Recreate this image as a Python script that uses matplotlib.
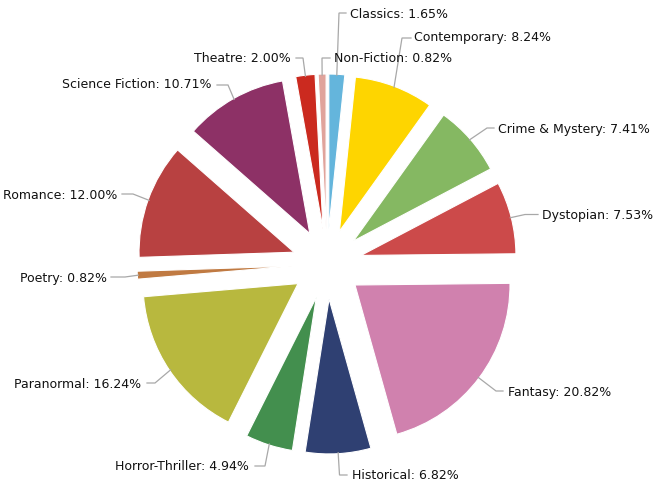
import numpy as np
import matplotlib
matplotlib.use("Agg")
import matplotlib.pyplot as plt

categories = ["Classics", "Contemporary", "Crime & Mystery", "Dystopian", "Fantasy",
              "Historical", "Horror-Thriller", "Paranormal", "Poetry", "Romance",
              "Science Fiction", "Theatre", "Non-Fiction"]
values = [1.65, 8.24, 7.41, 7.53, 20.82, 6.82, 4.94, 16.24, 0.82, 12.00, 10.71, 2.00, 0.82]
colors = ["#64b5dc", "#fed500", "#85b862", "#cc4a4a", "#d081ae", "#2f4072",
          "#438f4e", "#b8b83e", "#c07a42", "#b84141", "#8d3166", "#cb2a1f", "#e0a39b"]

W, H = 656, 487
CX, CY = 327, 264          # pie centre (screen px, y down)
R = 155                    # radius px
D = 35                     # explode offset px

# label layout: (elbow_x, elbow_y, end_x, text_x, text_y, ha) in screen px
layout = {
    "Classics":        (339, 13, 346, 350, 14, "left"),
    "Contemporary":    (402, 38, 411, 414, 38, "left"),
    "Crime & Mystery": (487, 128, 494, 498.5, 129.5, "left"),
    "Dystopian":       (525, 214.5, 538, 542.5, 215.5, "left"),
    "Fantasy":         (496, 391, 503, 507.5, 392.5, "left"),
    "Historical":      (339.5, 475, 347, 352, 475.5, "left"),
    "Horror-Thriller": (265, 466, 255, 249, 466, "right"),
    "Paranormal":      (155, 383, 147, 141, 384, "right"),
    "Poetry":          (125, 277, 111, 106.5, 278.5, "right"),
    "Romance":         (133, 194, 122, 117, 195.5, "right"),
    "Science Fiction": (228, 85, 217, 212, 85, "right"),
    "Theatre":         (303, 58, 296, 290.5, 58.5, "right"),
    "Non-Fiction":     (322, 58, 330, 333.5, 58, "left"),
}

fig = plt.figure(figsize=(W / 100, H / 100), dpi=100)
ax = fig.add_axes([0, 0, 1, 1])

ax.pie(values, colors=colors, startangle=90, counterclock=False,
       radius=R, center=(CX, H - CY), explode=[D] * len(values),
       wedgeprops=dict(edgecolor="white", linewidth=0.8), frame=True)
ax.set_xlim(0, W)
ax.set_ylim(0, H)
ax.set_aspect("equal")
ax.axis("off")

cum = np.cumsum([0] + values[:-1])
for cat, v, c0 in zip(categories, values, cum):
    mid = (c0 + v / 2) / 100 * 2 * np.pi
    sx = CX + (D + R - 1) * np.sin(mid)
    sy = CY - (D + R - 1) * np.cos(mid)
    ex, ey, hx, tx, ty, ha = layout[cat]
    ax.plot([sx, ex, hx], [H - sy, H - ey, H - ey], color="#a8a8a8", lw=0.9,
            solid_joinstyle="miter")
    ax.text(tx, H - ty, f"{cat}: {v:.2f}%", ha=ha, va="center",
            fontsize=9, color="#111111", family="DejaVu Sans")

fig.savefig("out.png", dpi=100)
